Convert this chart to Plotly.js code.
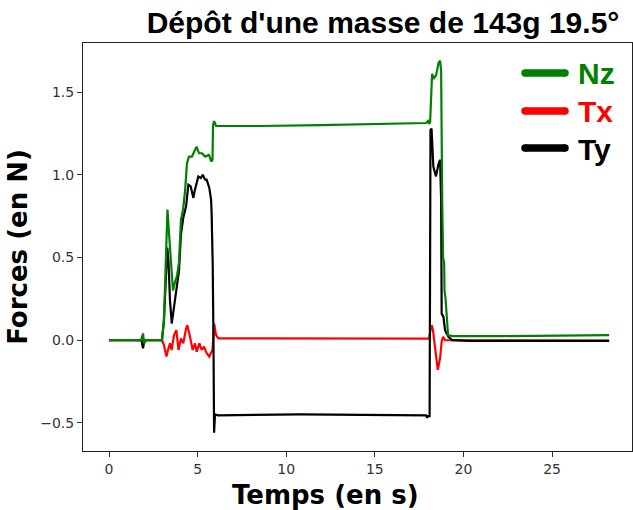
<!DOCTYPE html>
<html>
<head>
<meta charset="utf-8">
<script src="https://cdn.plot.ly/plotly-3.0.1.min.js"></script>
<style>html,body{margin:0;padding:0;background:#fff;}#chart{width:633px;height:510px;}</style>
</head>
<body>
<div id="chart"></div>
<script>
// ---- data ----
const Nz_t = [0, 1.81, 1.92, 1.98, 2.09, 2.99, 3.10, 3.22, 3.30, 3.39, 3.50, 3.61, 3.72, 3.84, 3.95, 4.06, 4.18, 4.29, 4.40, 4.51, 4.68, 4.80, 4.94, 5.08, 5.25, 5.42, 5.64, 5.78, 5.84, 5.87, 5.93, 6.04, 8.52, 11.91, 15.29, 17.89, 18.00, 18.06, 18.12, 18.17, 18.20, 18.23, 18.34, 18.45, 18.51, 18.59, 18.68, 18.74, 18.80, 18.85, 18.91, 18.93, 18.99, 19.07, 19.13, 19.36, 22.07, 28.22];
const Nz_v = [0, 0, 0.04, -0.02, 0, 0, 0.12, 0.60, 0.79, 0.64, 0.44, 0.30, 0.35, 0.39, 0.47, 0.73, 0.79, 0.90, 1.07, 1.11, 1.11, 1.14, 1.17, 1.13, 1.13, 1.11, 1.12, 1.08, 1.09, 1.30, 1.325, 1.295, 1.295, 1.30, 1.307, 1.313, 1.325, 1.307, 1.32, 1.50, 1.52, 1.61, 1.585, 1.60, 1.63, 1.675, 1.69, 1.63, 0.85, 0.50, 0.47, 0.30, 0.25, 0.09, 0.03, 0.024, 0.024, 0.03];

const Tx_t = [0, 2.99, 3.10, 3.24, 3.33, 3.44, 3.53, 3.67, 3.80, 3.92, 4.06, 4.19, 4.35, 4.42, 4.57, 4.72, 4.85, 4.95, 5.10, 5.23, 5.36, 5.51, 5.66, 5.75, 5.84, 5.93, 6.04, 6.17, 10.78, 18.06, 18.14, 18.21, 18.28, 18.40, 18.55, 18.68, 18.77, 18.85, 18.96, 28.22];
const Tx_v = [0, 0, -0.03, -0.10, -0.06, -0.02, -0.06, 0.03, 0.06, -0.06, 0.01, -0.02, 0.07, 0.09, 0.02, -0.06, -0.02, -0.07, -0.02, -0.06, -0.04, -0.08, -0.10, -0.08, -0.06, 0.10, 0.03, 0.01, 0.009, 0.009, 0.06, 0.09, 0.06, -0.06, -0.18, -0.11, -0.01, 0.02, 0, -0.003];

const Ty_t = [0, 1.83, 1.92, 1.98, 2.09, 2.99, 3.10, 3.22, 3.29, 3.36, 3.44, 3.54, 3.64, 3.78, 3.95, 4.06, 4.19, 4.35, 4.48, 4.61, 4.76, 4.85, 4.95, 5.04, 5.18, 5.29, 5.42, 5.51, 5.66, 5.76, 5.79, 5.85, 5.89, 5.93, 5.98, 6.15, 10.78, 17.89, 17.95, 18.00, 18.09, 18.14, 18.20, 18.30, 18.45, 18.58, 18.68, 18.74, 18.77, 18.87, 18.96, 19.15, 19.36, 20.37, 28.22];
const Ty_v = [0, 0, -0.05, -0.01, 0, 0, 0.12, 0.42, 0.56, 0.47, 0.24, 0.10, 0.18, 0.30, 0.42, 0.64, 0.74, 0.81, 0.94, 0.93, 0.86, 0.91, 0.96, 0.99, 0.98, 1.00, 0.97, 0.97, 0.92, 0.85, 0.77, 0.47, 0.06, -0.56, -0.45, -0.455, -0.45, -0.455, -0.47, -0.46, -0.46, 1.27, 1.28, 1.05, 0.99, 1.06, 1.09, 0.85, 0.16, 0.14, 0.06, 0.02, 0, -0.005, -0.005];

const seriesNames = ['Nz', 'Tx', 'Ty'];
const xTickVals = [0, 5, 10, 15, 20, 25];
const yTickVals = [-0.5, 0, 0.5, 1.0, 1.5];
const titleText = "Dépôt d'une masse de 143g 19.5°";
const xTitle = 'Temps (en s)';
const yTitle = 'Forces (en N)';

// ---- styles ----
const colors = {Nz: '#008000', Tx: '#ff0000', Ty: '#000000'};
const W = 633, H = 510;
const M = {l: 83, r: 1, t: 43, b: 59};
const PW = W - M.l - M.r, PH = H - M.t - M.b;
const px2x = p => (p - M.l) / PW;
const py2y = p => (H - M.b - p) / PH;

function mk(name, t, v) {
  return {x: t, y: v, type: 'scatter', mode: 'lines', name: name,
          line: {color: colors[name], width: 2.2}, showlegend: false, hoverinfo: 'skip'};
}
// drawing order: Tx, Ty, then Nz on top
const traces = [mk('Tx', Tx_t, Tx_v), mk('Ty', Ty_t, Ty_v), mk('Nz', Nz_t, Nz_v)];

// hand-drawn legend (thick rounded lines + coloured bold labels)
const shapes = [], annotations = [];
const legRows = [73, 111, 148];
const lw = 7.5, lx0 = 525, lx1 = 565, r = lw / 2;
seriesNames.forEach((n, i) => {
  const yc = legRows[i];
  shapes.push({type: 'line', xref: 'paper', yref: 'paper', x0: px2x(lx0), x1: px2x(lx1), y0: py2y(yc), y1: py2y(yc),
               line: {color: colors[n], width: lw}});
  [lx0, lx1].forEach(cx => shapes.push({type: 'circle', xref: 'paper', yref: 'paper',
     x0: px2x(cx - r), x1: px2x(cx + r), y0: py2y(yc + r), y1: py2y(yc - r),
     fillcolor: colors[n], line: {width: 0}}));
  annotations.push({xref: 'paper', yref: 'paper', x: px2x(576), y: py2y(yc + 1), xanchor: 'left', yanchor: 'middle',
     text: n, showarrow: false,
     font: {family: 'Liberation Sans, Arial, sans-serif', size: 30, weight: 'bold', color: colors[n]}});
});
// x axis title (offset to the left as in the reference)
annotations.push({xref: 'paper', yref: 'paper', x: px2x(325), y: py2y(495), xanchor: 'center', yanchor: 'middle',
  text: xTitle, showarrow: false,
  font: {family: 'DejaVu Sans', size: 26, weight: 'bold', color: '#000'}});

const axCommon = {
  showgrid: false, zeroline: false, showline: true, mirror: true,
  linecolor: '#222', linewidth: 1, ticks: 'outside', ticklen: 5, tickwidth: 1, tickcolor: '#333',
  tickfont: {family: 'DejaVu Sans', size: 14, color: '#333'}
};

const layout = {
  width: W, height: H, margin: M,
  paper_bgcolor: '#fff', plot_bgcolor: '#fff', showlegend: false,
  title: {text: titleText, xref: 'container', yref: 'container', x: 383 / W, y: 1 - 22 / H,
          xanchor: 'center', yanchor: 'middle',
          font: {family: 'Liberation Sans, Arial, sans-serif', size: 30, weight: 'bold', color: '#000'}},
  xaxis: Object.assign({}, axCommon, {range: [-1.467, 29.51], tickvals: xTickVals, ticktext: xTickVals.map(String)}),
  yaxis: Object.assign({}, axCommon, {range: [-0.671, 1.797], tickvals: yTickVals, tickformat: '.1f',
          title: {text: yTitle, standoff: 5, font: {family: 'DejaVu Sans', size: 26, weight: 'bold', color: '#000'}}}),
  shapes: shapes, annotations: annotations
};

Plotly.newPlot('chart', traces, layout, {displayModeBar: false, staticPlot: true});
</script>
</body>
</html>
